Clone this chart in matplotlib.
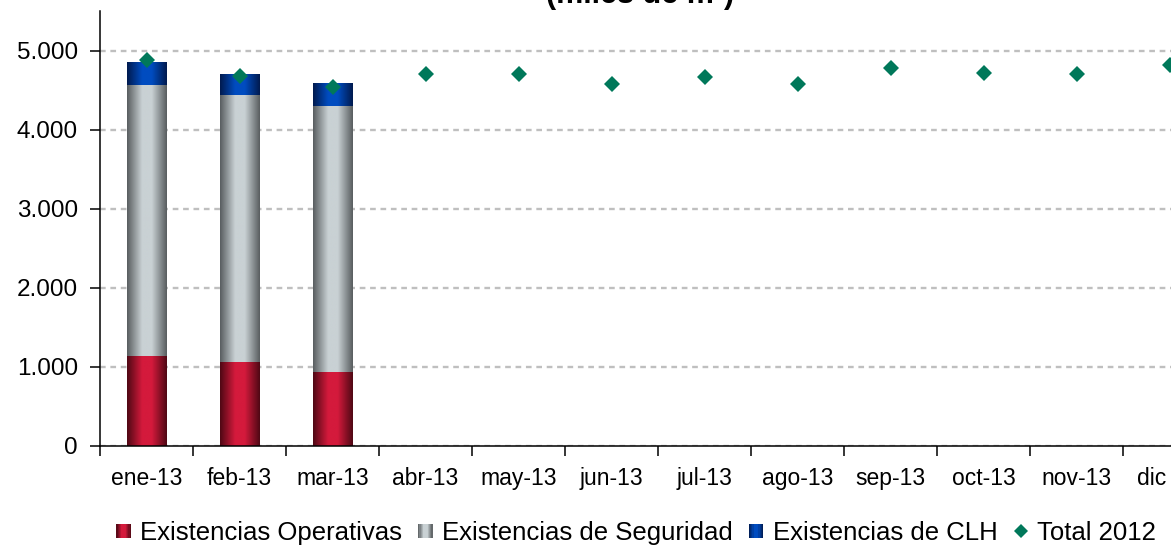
import matplotlib
matplotlib.use("Agg")
import matplotlib.pyplot as plt
import matplotlib.transforms as mtransforms
import numpy as np
from matplotlib.colors import LinearSegmentedColormap
from matplotlib.legend_handler import HandlerBase
from matplotlib.patches import Rectangle
from matplotlib.ticker import FuncFormatter, MultipleLocator

plt.rcParams['font.family'] = ['Liberation Sans', 'DejaVu Sans']

meses = ['ene-13', 'feb-13', 'mar-13', 'abr-13', 'may-13', 'jun-13',
         'jul-13', 'ago-13', 'sep-13', 'oct-13', 'nov-13', 'dic-13']
operativas = [1140, 1060, 940]
seguridad = [3430, 3380, 3365]
clh = [280, 265, 280]
total_2012 = [4885, 4675, 4545, 4705, 4700, 4580, 4660, 4580, 4780,
              4720, 4700, 4820]


def cyl(name, edge, mid):
    # shading like a cylinder: dark edges, light band a bit left of centre
    return LinearSegmentedColormap.from_list(
        name, [(0, edge), (0.38, mid), (0.62, mid), (1, edge)])


cm_red = cyl('red', '#4e0814', '#d41a3c')
cm_gray = cyl('gray', '#585d5f', '#c9d1d4')
cm_blue = cyl('blue', '#001a4e', '#004cc0')

fig = plt.figure(figsize=(11.71, 5.47), dpi=100)
ax = fig.add_axes([100 / 1171, 101 / 547, 1116 / 1171, 435 / 547])

x = np.arange(len(operativas))
w = 0.42
grad = np.linspace(0, 1, 256).reshape(1, -1)

bottom = np.zeros(len(x))
for vals, cm in [(operativas, cm_red), (seguridad, cm_gray), (clh, cm_blue)]:
    bars = ax.bar(x, vals, w, bottom=bottom, color='none', linewidth=0)
    for b in bars:
        bx, by = b.get_x(), b.get_y()
        ax.imshow(grad, cmap=cm, aspect='auto', interpolation='bilinear',
                  extent=[bx, bx + b.get_width(), by, by + b.get_height()],
                  zorder=2)
    bottom += np.array(vals)

ax.plot(np.arange(len(meses)), total_2012, 'D', color='#00785a',
        markersize=7.8, markeredgewidth=0, zorder=4, clip_on=False)

ax.set_xlim(-0.5, len(meses) - 0.5)
ax.set_ylim(0, 5500)
ax.yaxis.set_major_locator(MultipleLocator(1000))
ax.yaxis.set_major_formatter(FuncFormatter(lambda v, p: f'{int(v):,}'.replace(',', '.')))
ax.set_xticks(np.arange(len(meses)))
ax.set_xticklabels(meses[:-1] + ['dic'])
ax.set_xticks(np.arange(-0.5, len(meses)), minor=True)
ax.tick_params(axis='x', which='major', length=0, pad=15, labelsize=16.5)
ax.tick_params(axis='x', which='minor', length=7, width=1.1, direction='out')
ax.tick_params(axis='y', length=7, width=1.1, pad=9, labelsize=17.5)
# the last label is cut at the picture edge in the original: keep "dic" where it starts
lab = ax.get_xticklabels()[-1]
lab.set_horizontalalignment('left')
lab.set_transform(lab.get_transform() +
                  mtransforms.ScaledTranslation(-0.33, 0, fig.dpi_scale_trans))

ax.grid(axis='y', color='#bfbfbf', linestyle=(0, (2.4, 2.0)), linewidth=1.7)
ax.set_axisbelow(True)
for s in ['top', 'right']:
    ax.spines[s].set_visible(False)
for s in ['left', 'bottom']:
    ax.spines[s].set_linewidth(1.1)
    ax.spines[s].set_zorder(5)

fig.text(640 / 1171, 1 - 10 / 547, '(miles de m³)', ha='center', va='bottom',
         fontsize=22, fontweight='bold')


class GradHandler(HandlerBase):
    def __init__(self, cm):
        super().__init__()
        self.cm = cm

    def create_artists(self, legend, orig, xd, yd, width, height, fontsize, trans):
        n = 12
        s = height * 0.8
        x0 = xd + (width - s) / 2
        y0 = yd + (height - s) / 2
        arts = []
        for i in range(n):
            r = Rectangle((x0 + i * s / n, y0), s / n * 1.05, s,
                          facecolor=self.cm((i + 0.5) / n), linewidth=0,
                          transform=trans)
            arts.append(r)
        return arts


h_op = Rectangle((0, 0), 1, 1)
h_seg = Rectangle((0, 0), 1, 1)
h_clh = Rectangle((0, 0), 1, 1)
h_tot, = ax.plot([], [], 'D', color='#00785a', markersize=7.5, markeredgewidth=0)
fig.legend([h_op, h_seg, h_clh, h_tot],
           ['Existencias Operativas', 'Existencias de Seguridad',
            'Existencias de CLH', 'Total 2012'],
           handler_map={h_op: GradHandler(cm_red), h_seg: GradHandler(cm_gray),
                        h_clh: GradHandler(cm_blue)},
           loc='center', bbox_to_anchor=(636 / 1171, 1 - 533 / 547), ncol=4,
           frameon=False, fontsize=18.5, handlelength=0.6, handletextpad=0.35,
           columnspacing=0.6, borderpad=0, borderaxespad=0)

fig.savefig('out.png', dpi=100)
